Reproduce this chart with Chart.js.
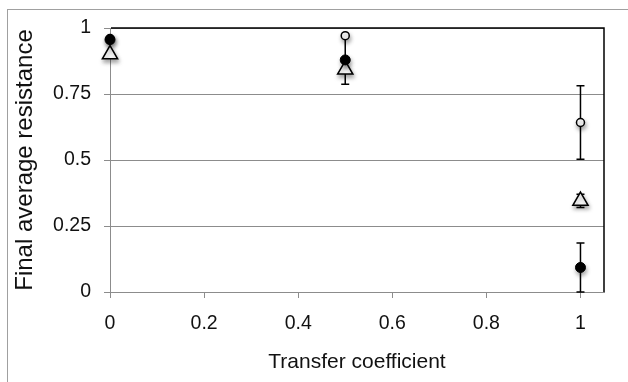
<!DOCTYPE html>
<html><head><meta charset="utf-8">
<script src="https://cdn.jsdelivr.net/npm/chart.js@4/dist/chart.umd.min.js"></script>
<style>html,body{margin:0;padding:0;background:#fff;} #wrap{width:628px;height:382px;position:relative;overflow:hidden}</style>
</head><body><div id="wrap"><canvas id="c" width="628" height="382"></canvas></div>
<script>
const xValues = [0, 0.5, 1];
const openCircle = [0.96, 0.971, 0.642];
const openCircleErr = [0, 0, 0.139];
const filledCircle = [0.956, 0.879, 0.093];
const filledCircleErr = [0, 0.092, 0.093];
const triangle = [0.90, 0.842, 0.345];
const triangleErr = [0, 0, 0.025];
const xTicks = [0, 0.2, 0.4, 0.6, 0.8, 1];
const xTickLabels = ['0', '0.2', '0.4', '0.6', '0.8', '1'];
const yTicks = [0, 0.25, 0.5, 0.75, 1];
const yTickLabels = ['0', '0.25', '0.5', '0.75', '1'];
const xTitle = 'Transfer coefficient';
const yTitle = 'Final average resistance';

const FONT = '"Liberation Sans", Arial, sans-serif';
const TEXT = '#111';
const GRID = '#8c8c8c';

function pts(ys, errs) {
  return xValues.map((x, i) => ({ x: x, y: ys[i], err: errs[i] }));
}

const frame = {
  id: 'frame',
  beforeDraw(chart) {
    const ctx = chart.ctx;
    ctx.save();
    ctx.fillStyle = '#fff';
    ctx.fillRect(0, 0, chart.width, chart.height);
    ctx.strokeStyle = '#a0a0a0';
    ctx.lineWidth = 1;
    ctx.strokeRect(7.5, 9.5, 800, 600);
    ctx.restore();
  },
  beforeDatasetsDraw(chart) {
    const ctx = chart.ctx, xs = chart.scales.x, ys = chart.scales.y;
    ctx.save();
    ctx.strokeStyle = '#000';
    ctx.lineWidth = 1.5;
    chart.data.datasets.forEach(ds => {
      ds.data.forEach(p => {
        if (!p.err) return;
        const px = xs.getPixelForValue(p.x);
        const top = ys.getPixelForValue(p.y + p.err);
        const bot = ys.getPixelForValue(Math.max(0, p.y - p.err));
        ctx.beginPath();
        ctx.moveTo(px, top); ctx.lineTo(px, bot);
        ctx.moveTo(px - 4, top); ctx.lineTo(px + 4, top);
        ctx.moveTo(px - 4, bot); ctx.lineTo(px + 4, bot);
        ctx.stroke();
      });
    });
    ctx.restore();
  },
  beforeDatasetDraw(chart) {
    const ctx = chart.ctx;
    ctx.save();
    ctx.shadowColor = 'rgba(0,0,0,0.35)';
    ctx.shadowBlur = 4;
    ctx.shadowOffsetX = 1;
    ctx.shadowOffsetY = 3;
  },
  afterDatasetDraw(chart) {
    chart.ctx.restore();
  },
  afterDraw(chart) {
    const ctx = chart.ctx, a = chart.chartArea;
    ctx.save();
    ctx.strokeStyle = '#000';
    ctx.lineWidth = 1.5;
    ctx.beginPath();
    ctx.moveTo(a.left + 1, a.top);
    ctx.lineTo(a.right, a.top);
    ctx.lineTo(a.right, a.bottom);
    ctx.stroke();
    ctx.restore();
  }
};

new Chart(document.getElementById('c'), {
  type: 'scatter',
  data: {
    datasets: [
      { label: 'filled', data: pts(filledCircle, filledCircleErr), pointStyle: 'circle', pointRadius: 5,
        backgroundColor: '#000', borderColor: '#000', borderWidth: 1, clip: false },
      { label: 'triangle', data: pts(triangle, triangleErr), pointStyle: 'triangle', pointRadius: 8.8,
        backgroundColor: '#fff', borderColor: '#000', borderWidth: 1.5, clip: false },
      { label: 'open', data: pts(openCircle, openCircleErr), pointStyle: 'circle', pointRadius: 4,
        backgroundColor: '#fff', borderColor: '#000', borderWidth: 1.5, clip: false }
    ]
  },
  plugins: [frame],
  options: {
    responsive: false,
    animation: false,
    events: [],
    layout: { padding: { top: 28, right: 24, left: 0, bottom: 0 } },
    plugins: { legend: { display: false }, tooltip: { enabled: false } },
    scales: {
      x: {
        type: 'linear', min: 0, max: 1.05,
        afterBuildTicks: s => { s.ticks = xTicks.map(v => ({ value: v })); },
        afterFit: s => { s.height = 90; },
        ticks: { callback: (v, i) => xTickLabels[i], font: { family: FONT, size: 19.5 }, color: TEXT,
                 padding: 14, maxRotation: 0, autoSkip: false },
        grid: { drawOnChartArea: false, drawTicks: true, tickLength: 6, color: GRID },
        border: { color: GRID, width: 1 },
        title: { display: true, text: xTitle, font: { family: FONT, size: 21 }, color: TEXT,
                 padding: { top: 0, bottom: 7 } }
      },
      y: {
        type: 'linear', min: 0, max: 1,
        afterBuildTicks: s => { s.ticks = yTicks.map(v => ({ value: v })); },
        afterFit: s => { s.width = 110; },
        ticks: { callback: (v, i) => yTickLabels[i], font: { family: FONT, size: 19.5 }, color: TEXT,
                 padding: 13, autoSkip: false },
        grid: { drawTicks: true, tickLength: 6, color: GRID },
        border: { color: GRID, width: 1 },
        title: { display: true, text: yTitle, font: { family: FONT, size: 24 }, color: TEXT,
                 padding: { top: 11, bottom: 0 } }
      }
    }
  }
});
</script>
</body></html>
